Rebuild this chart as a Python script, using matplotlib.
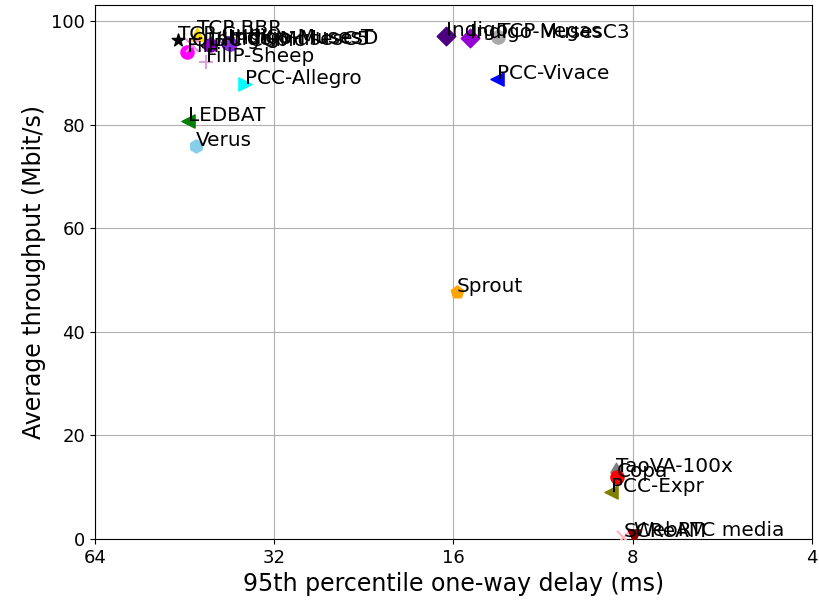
import numpy as np
import matplotlib.pyplot as plt
from matplotlib.ticker import FixedLocator, FixedFormatter, NullLocator

# scheme results: 95th percentile delay (ms), average throughput (Mbit/s)
schemes = ['TCP Cubic', 'TCP BBR', 'FillP', 'QUIC Cubic', 'FillP-Sheep',
           'Indigo-MusesC5', 'Indigo-MusesT', 'Indigo-MusesD', 'PCC-Allegro',
           'LEDBAT', 'Verus', 'Indigo', 'Indigo-MusesC3', 'TCP Vegas',
           'PCC-Vivace', 'Sprout', 'TaoVA-100x', 'Copa', 'PCC-Expr',
           'SCReAM', 'WebRTC media']
delay = [46.5, 43.1, 44.8, 44.0, 41.7,
         41.0, 38.3, 37.9, 35.8,
         44.7, 43.3, 16.45, 15.0, 13.46,
         13.5, 15.8, 8.53, 8.5, 8.7,
         8.3, 7.97]
tput = [96.3, 97.5, 94.1, 95.3, 92.1,
        95.3, 95.8, 95.6, 87.8,
        80.7, 75.9, 97.1, 96.7, 97.0,
        88.8, 47.7, 12.9, 12.0, 9.0,
        0.3, 0.5]
colors = ['black', 'gold', 'magenta', 'violet', 'plum',
          'darkviolet', 'indigo', 'blueviolet', 'cyan',
          'green', 'skyblue', 'indigo', 'darkviolet', 'darkgray',
          'blue', 'orange', 'gray', 'red', 'olive',
          'lightpink', 'darkred']
markers = ['*', '^', 'o', 'x', '+',
           'o', 'o', 'o', '>',
           '<', 'h', 'D', 'D', 'o',
           '<', 'p', 'd', 'o', '<',
           'x', 'v']

fig = plt.figure(figsize=(8.19, 6.09), dpi=100)
ax = fig.add_axes([0.116, 0.115, 0.8754, 0.8768])

for i in range(len(schemes)):
    ax.scatter(delay[i], tput[i], color=colors[i], marker=markers[i], s=90,
               zorder=3)
    ax.annotate(schemes[i], (delay[i], tput[i]), fontsize=14.4, zorder=4)

ax.set_xscale('log', base=2)
ax.set_xlim(64, 4)
ax.set_ylim(0, 103.1)
ax.xaxis.set_major_locator(FixedLocator([64, 32, 16, 8, 4]))
ax.xaxis.set_major_formatter(FixedFormatter(['64', '32', '16', '8', '4']))
ax.xaxis.set_minor_locator(NullLocator())
ax.tick_params(labelsize=13)
ax.set_xlabel('95th percentile one-way delay (ms)', fontsize=17)
ax.set_ylabel('Average throughput (Mbit/s)', fontsize=17)
ax.grid()

plt.savefig('out.png')
